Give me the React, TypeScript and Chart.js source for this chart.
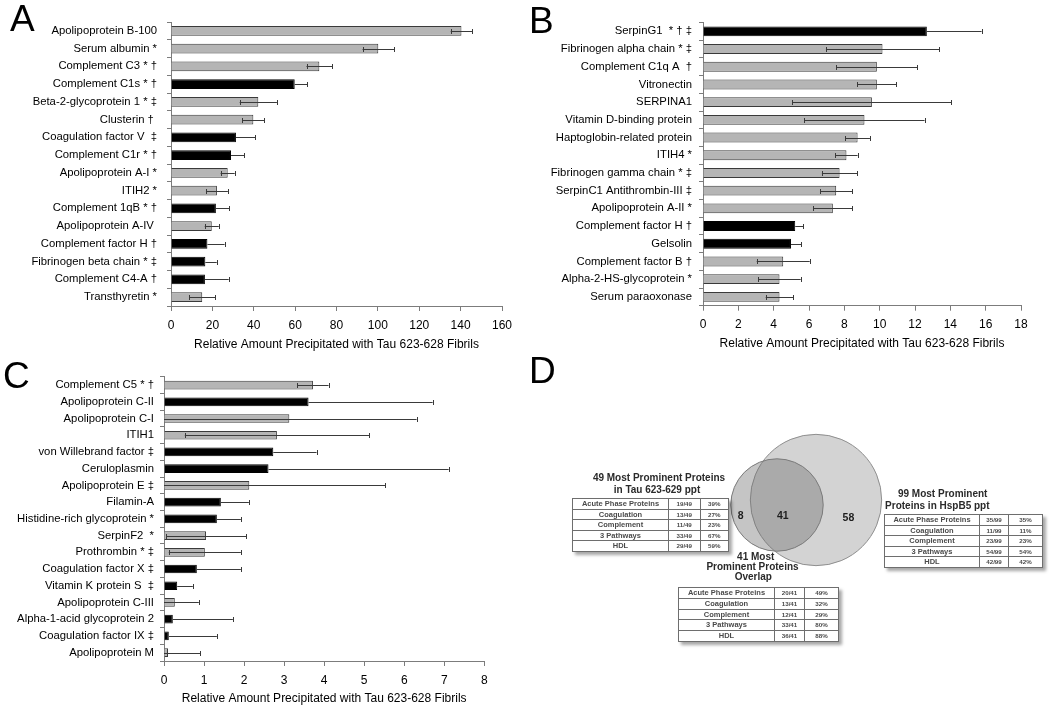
import React, { useEffect, useRef } from "react";
import { Chart, registerables } from "chart.js";

Chart.register(...registerables);

const FONT = "Arial, 'Liberation Sans', Helvetica, sans-serif";
Chart.defaults.font.family = FONT;
Chart.defaults.color = "#000";

// ---------------- Panel A ----------------
const aLabels = [
  "Apolipoprotein B-100",
  "Serum albumin *",
  "Complement C3 * †",
  "Complement C1s * †",
  "Beta-2-glycoprotein 1 * ‡",
  "Clusterin † ",
  "Coagulation factor V  ‡",
  "Complement C1r * †",
  "Apolipoprotein A-I *",
  "ITIH2 *",
  "Complement 1qB * †",
  "Apolipoprotein A-IV ",
  "Complement factor H †",
  "Fibrinogen beta chain * ‡",
  "Complement C4-A †",
  "Transthyretin *",
];
const aValues = [140.4, 100.2, 71.7, 59.8, 42.2, 39.8, 31.4, 29.0, 27.4, 22.2, 21.7, 19.7, 17.6, 16.6, 16.4, 15.1];
const aErrors = [5.2, 7.6, 6.2, 6.0, 9.0, 5.3, 9.3, 6.4, 3.4, 5.3, 6.5, 3.4, 8.3, 5.5, 11.5, 6.3];
const aBlack = [false, false, false, true, false, false, true, true, false, false, true, false, true, true, true, false];
const aTicks = { max: 160, step: 20 };

// ---------------- Panel B ----------------
const bLabels = [
  "SerpinG1  * † ‡",
  "Fibrinogen alpha chain * ‡",
  "Complement C1q A  †",
  "Vitronectin",
  "SERPINA1",
  "Vitamin D-binding protein",
  "Haptoglobin-related protein",
  "ITIH4 *",
  "Fibrinogen gamma chain * ‡",
  "SerpinC1 Antithrombin-III ‡",
  "Apolipoprotein A-II *",
  "Complement factor H †",
  "Gelsolin",
  "Complement factor B †",
  "Alpha-2-HS-glycoprotein *",
  "Serum paraoxonase",
];
const bValues = [12.67, 10.16, 9.84, 9.84, 9.56, 9.14, 8.75, 8.12, 7.73, 7.54, 7.35, 5.22, 4.98, 4.54, 4.33, 4.33];
const bErrors = [3.1, 3.2, 2.3, 1.1, 4.5, 3.4, 0.7, 0.63, 1.0, 0.9, 1.1, 0.44, 0.58, 1.5, 1.2, 0.78];
const bBlack = [true, false, false, false, false, false, false, false, false, false, false, true, true, false, false, false];
const bTicks = { max: 18, step: 2 };

// ---------------- Panel C ----------------
const cLabels = [
  "Complement C5 * †",
  "Apolipoprotein C-II",
  "Apolipoprotein C-I",
  "ITIH1",
  "von Willebrand factor ‡",
  "Ceruloplasmin",
  "Apolipoprotein E ‡",
  "Filamin-A",
  "Histidine-rich glycoprotein *",
  "SerpinF2  *",
  "Prothrombin * ‡",
  "Coagulation factor X ‡",
  "Vitamin K protein S  ‡",
  "Apolipoprotein C-III",
  "Alpha-1-acid glycoprotein 2",
  "Coagulation factor IX ‡",
  "Apolipoprotein M",
];
const cValues = [3.72, 3.61, 3.13, 2.82, 2.73, 2.61, 2.13, 1.42, 1.32, 1.05, 1.02, 0.82, 0.33, 0.27, 0.22, 0.12, 0.1];
const cErrors = [0.39, 3.1, 3.18, 2.3, 1.08, 4.5, 3.4, 0.7, 0.6, 1.0, 0.9, 1.1, 0.39, 0.6, 1.5, 1.2, 0.8];
const cBlack = [false, true, false, false, true, true, false, true, true, false, false, true, true, false, true, true, false];
const cTicks = { max: 8, step: 1 };

const xTitle = "Relative Amount Precipitated with Tau 623-628 Fibrils";

// ---------------- Panel D ----------------
const tableCategories = ["Acute Phase Proteins", "Coagulation", "Complement", "3 Pathways", "HDL"];
const tauTotal = 49;
const tauCounts = [19, 13, 11, 33, 29];
const tauPct = ["39%", "27%", "23%", "67%", "59%"];
const hspTotal = 99;
const hspCounts = [35, 11, 23, 54, 42];
const hspPct = ["35%", "11%", "23%", "54%", "42%"];
const overlapTotal = 41;
const overlapCounts = [20, 13, 12, 33, 36];
const overlapPct = ["49%", "32%", "29%", "80%", "88%"];
const vennSetSizes = [49, 99]; // Tau ppt, HspB5 ppt
const vennRegionCounts = [8, 41, 58]; // Tau only, overlap, HspB5 only

// ---------------- Error bars plugin ----------------
const errorBarPlugin = {
  id: "errorBars",
  afterDatasetsDraw(chart: any) {
    const ctx = chart.ctx;
    const xs = chart.scales.x;
    chart.data.datasets.forEach((ds: any, di: number) => {
      const errs: number[] | undefined = ds.errors;
      if (!errs) return;
      const dark: boolean[] = ds.dark || [];
      const meta = chart.getDatasetMeta(di);
      meta.data.forEach((bar: any, i: number) => {
        const v = ds.data[i];
        const e = errs[i];
        const hideLower = !!dark[i];
        const lo = hideLower ? v : Math.max(v - e, xs.min);
        const xl = xs.getPixelForValue(lo);
        const xr = xs.getPixelForValue(v + e);
        const y = Math.round(bar.y) + 0.5;
        ctx.save();
        ctx.strokeStyle = "#3a3a3a";
        ctx.lineWidth = 1;
        ctx.beginPath();
        ctx.moveTo(xl, y);
        ctx.lineTo(xr, y);
        const cr = Math.round(xr) + 0.5;
        ctx.moveTo(cr, y - 2.5);
        ctx.lineTo(cr, y + 2.5);
        if (!hideLower && v - e > xs.min) {
          const cl = Math.round(xl) + 0.5;
          ctx.moveTo(cl, y - 2.5);
          ctx.lineTo(cl, y + 2.5);
        }
        ctx.stroke();
        ctx.restore();
      });
    });
  },
};

type Box = { left: number; top: number; width: number; height: number };
type Area = { left: number; right: number; top: number; bottom: number };

type PanelProps = {
  labels: string[];
  values: number[];
  errors: number[];
  black: boolean[];
  ticks: { max: number; step: number };
  box: Box;
  area: Area;
  titleY: number;
  labelPad: number;
  barPct: number;
};

function BarPanel(p: PanelProps) {
  const ref = useRef<HTMLCanvasElement>(null);
  useEffect(() => {
    const { box, area } = p;
    const padTop = area.top - box.top;
    const padRight = box.left + box.width - area.right;
    const yWidth = area.left - box.left;
    const xScaleBottom = p.titleY + 7.2;
    const xHeight = xScaleBottom - area.bottom;
    const padBottom = box.top + box.height - xScaleBottom;
    const axisColor = "#7c7c7c";
    const chart = new Chart(ref.current as HTMLCanvasElement, {
      type: "bar",
      data: {
        labels: p.labels,
        datasets: [
          {
            data: p.values,
            errors: p.errors,
            dark: p.black,
            backgroundColor: p.black.map((b) => (b ? "#000000" : "#b5b5b5")),
            borderColor: p.black.map((b) => (b ? "#000000" : "#3a3a3a")),
            borderWidth: 1,
            barPercentage: p.barPct,
            categoryPercentage: 1,
          } as any,
        ],
      },
      options: {
        indexAxis: "y",
        animation: false,
        responsive: false,
        events: [],
        layout: { padding: { top: padTop, right: padRight, bottom: padBottom, left: 0 } },
        plugins: { legend: { display: false }, tooltip: { enabled: false } },
        scales: {
          x: {
            type: "linear",
            min: 0,
            max: p.ticks.max,
            ticks: { stepSize: p.ticks.step, color: "#000", font: { size: 12 }, padding: 7 },
            grid: { drawOnChartArea: false, tickLength: 5, color: axisColor },
            border: { color: axisColor },
            title: { display: true, text: xTitle, color: "#000", font: { size: 12 }, padding: 0 },
            afterFit: (s: any) => {
              s.height = xHeight;
            },
          },
          y: {
            type: "category",
            offset: true,
            grid: { offset: true, drawOnChartArea: false, tickLength: 4, color: axisColor },
            border: { color: axisColor },
            ticks: { autoSkip: false, color: "#000", font: { size: 11.3 }, padding: p.labelPad },
            afterFit: (s: any) => {
              s.width = yWidth;
            },
          },
        },
      } as any,
      plugins: [errorBarPlugin],
    });
    return () => chart.destroy();
  }, []);
  return (
    <canvas
      ref={ref}
      width={p.box.width}
      height={p.box.height}
      style={{ position: "absolute", left: p.box.left, top: p.box.top, width: p.box.width, height: p.box.height }}
    />
  );
}

// ---------------- Venn ----------------
const VENN_BOX = { left: 700, top: 420, width: 200, height: 160 };
const VENN_LAYOUT = { k: 6.6, smallCx: 77, smallCy: 85, largeCx: 116, largeCy: 80 };

const vennLabelPlugin = {
  id: "vennLabels",
  afterDatasetsDraw(chart: any) {
    const meta = chart.getDatasetMeta(0);
    const large = meta.data[0];
    const small = meta.data[1];
    const rl = large.options.radius;
    const rs = small.options.radius;
    const y = (large.y + small.y) / 2 + 14;
    const xs = [
      (small.x - rs + (large.x - rl)) / 2,
      (large.x - rl + (small.x + rs)) / 2 - 4,
      (small.x + rs + (large.x + rl)) / 2 - 4,
    ];
    const ctx = chart.ctx;
    ctx.save();
    ctx.fillStyle = "#1e1e1e";
    ctx.font = "bold 10.5px " + FONT;
    ctx.textAlign = "center";
    ctx.textBaseline = "middle";
    vennRegionCounts.forEach((n, i) => ctx.fillText(String(n), xs[i], i === 2 ? y + 2 : y));
    ctx.restore();
  },
};

function VennChart() {
  const ref = useRef<HTMLCanvasElement>(null);
  useEffect(() => {
    const radii = vennSetSizes.map((n) => VENN_LAYOUT.k * Math.sqrt(n));
    const chart = new Chart(ref.current as HTMLCanvasElement, {
      type: "bubble",
      data: {
        datasets: [
          {
            data: [
              { x: VENN_LAYOUT.largeCx, y: VENN_LAYOUT.largeCy, r: radii[1] },
              { x: VENN_LAYOUT.smallCx, y: VENN_LAYOUT.smallCy, r: radii[0] },
            ],
            backgroundColor: ["rgba(110,110,110,0.30)", "rgba(110,110,110,0.40)"],
            borderColor: ["#8e8e8e", "#7a7a7a"],
            borderWidth: 1,
            clip: false,
          } as any,
        ],
      },
      options: {
        animation: false,
        responsive: false,
        events: [],
        layout: { padding: 0, autoPadding: false },
        plugins: { legend: { display: false }, tooltip: { enabled: false } },
        scales: {
          x: { type: "linear", display: false, min: 0, max: VENN_BOX.width },
          y: { type: "linear", display: false, min: 0, max: VENN_BOX.height, reverse: true },
        },
      } as any,
      plugins: [vennLabelPlugin],
    });
    return () => chart.destroy();
  }, []);
  return (
    <canvas
      ref={ref}
      width={VENN_BOX.width}
      height={VENN_BOX.height}
      style={{ position: "absolute", left: VENN_BOX.left, top: VENN_BOX.top, width: VENN_BOX.width, height: VENN_BOX.height }}
    />
  );
}

function Txt(props: { x: number; y: number; size: number; bold?: boolean; children: React.ReactNode; color?: string }) {
  return (
    <div
      style={{
        position: "absolute",
        left: props.x,
        top: props.y,
        transform: "translate(-50%, -50%)",
        whiteSpace: "nowrap",
        fontFamily: FONT,
        fontSize: props.size,
        fontWeight: props.bold ? "bold" : "normal",
        lineHeight: 1,
        color: props.color || "#2a2a2a",
      }}
    >
      {props.children}
    </div>
  );
}

function StatTable(props: {
  left: number;
  top: number;
  widths: number[];
  rowH: number;
  counts: number[];
  total: number;
  pct: string[];
}) {
  const w = props.widths.reduce((a, b) => a + b, 0);
  const cell = (extra: any) => ({
    border: "1px solid #6e6e6e",
    padding: 0,
    textAlign: "center" as const,
    verticalAlign: "middle" as const,
    height: props.rowH - 1,
    lineHeight: props.rowH - 1 + "px",
    overflow: "hidden",
    whiteSpace: "nowrap" as const,
    ...extra,
  });
  return (
    <table
      style={{
        position: "absolute",
        left: props.left,
        top: props.top,
        width: w,
        borderCollapse: "collapse",
        tableLayout: "fixed",
        background: "#fff",
        boxShadow: "3px 3px 3px rgba(0,0,0,0.35)",
        fontFamily: FONT,
        fontWeight: "bold",
        color: "#4a4a4a",
        border: "1px solid #444",
      }}
    >
      <colgroup>
        {props.widths.map((cw, i) => (
          <col key={i} style={{ width: cw }} />
        ))}
      </colgroup>
      <tbody>
        {tableCategories.map((c, i) => (
          <tr key={c}>
            <td style={cell({ fontSize: 7.5 })}>{c}</td>
            <td style={cell({ fontSize: 6.2 })}>{props.counts[i] + "/" + props.total}</td>
            <td style={cell({ fontSize: 6.2 })}>{props.pct[i]}</td>
          </tr>
        ))}
      </tbody>
    </table>
  );
}

function Letter(props: { x: number; y: number; ch: string }) {
  return (
    <div
      style={{
        position: "absolute",
        left: props.x,
        top: props.y,
        fontFamily: FONT,
        fontSize: 37,
        lineHeight: "37px",
        color: "#000",
      }}
    >
      {props.ch}
    </div>
  );
}

export default function App() {
  return (
    <div
      style={{
        position: "absolute",
        left: 0,
        top: 0,
        width: 1050,
        height: 710,
        background: "#fff",
        overflow: "hidden",
      }}
    >
      <BarPanel
        labels={aLabels}
        values={aValues}
        errors={aErrors}
        black={aBlack}
        ticks={aTicks}
        box={{ left: 0, top: 0, width: 520, height: 354 }}
        area={{ left: 171, right: 502, top: 22, bottom: 306 }}
        titleY={345}
        labelPad={10}
        barPct={0.56}
      />
      <BarPanel
        labels={bLabels}
        values={bValues}
        errors={bErrors}
        black={bBlack}
        ticks={bTicks}
        box={{ left: 520, top: 0, width: 530, height: 354 }}
        area={{ left: 703, right: 1021, top: 22.5, bottom: 305.7 }}
        titleY={343.5}
        labelPad={7}
        barPct={0.56}
      />
      <BarPanel
        labels={cLabels}
        values={cValues}
        errors={cErrors}
        black={cBlack}
        ticks={cTicks}
        box={{ left: 0, top: 354, width: 520, height: 356 }}
        area={{ left: 164, right: 484.3, top: 376.7, bottom: 661 }}
        titleY={698.5}
        labelPad={6}
        barPct={0.52}
      />

      <VennChart />

      <Txt x={659} y={478} size={10} bold>
        49 Most Prominent Proteins
      </Txt>
      <Txt x={657} y={489.5} size={10} bold>
        in Tau 623-629 ppt
      </Txt>
      <StatTable left={572} top={498} widths={[96, 31.5, 28.5]} rowH={10.6} counts={tauCounts} total={tauTotal} pct={tauPct} />

      <Txt x={942.7} y={494} size={10} bold>
        99 Most Prominent
      </Txt>
      <Txt x={937.3} y={505.7} size={10} bold>
        Proteins in HspB5 ppt
      </Txt>
      <StatTable left={884} top={514} widths={[95, 29, 34]} rowH={10.5} counts={hspCounts} total={hspTotal} pct={hspPct} />

      <Txt x={755.7} y={556.7} size={10} bold>
        41 Most
      </Txt>
      <Txt x={752.5} y={566.5} size={10} bold>
        Prominent Proteins
      </Txt>
      <Txt x={753.3} y={577} size={10} bold>
        Overlap
      </Txt>
      <StatTable left={678} top={587} widths={[96, 30, 34]} rowH={10.8} counts={overlapCounts} total={overlapTotal} pct={overlapPct} />

      <Letter x={10} y={0} ch="A" />
      <Letter x={529} y={2} ch="B" />
      <Letter x={3} y={357} ch="C" />
      <Letter x={529} y={352} ch="D" />
    </div>
  );
}
